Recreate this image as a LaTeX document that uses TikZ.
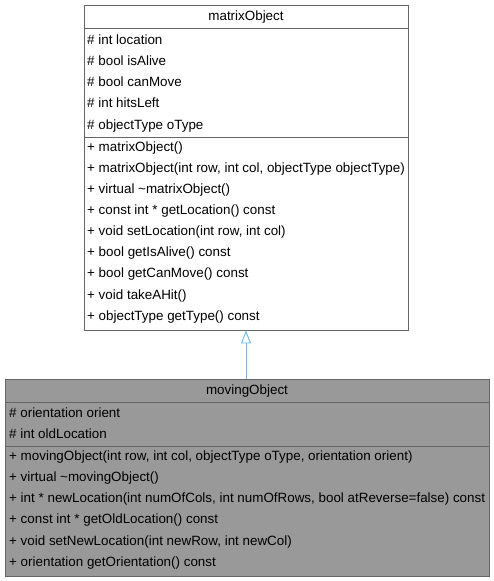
\documentclass[tikz,border=0pt]{standalone}
\usepackage{fontspec}
\setmainfont{Liberation Sans}
\usetikzlibrary{arrows.meta,positioning,calc}

\definecolor{edgeblue}{RGB}{99,184,255}

\begin{document}
\begin{tikzpicture}[x=1pt, y=-1pt, font=\fontsize{13.4}{15}\selectfont,
  classbox/.style={rectangle, draw=black!60, line width=0.9pt, inner sep=0pt},
  member/.style={anchor=west, inner sep=0pt, text height=9.5pt, text depth=2.8pt},
  sepline/.style={draw=black!60, line width=0.9pt},
  inherit/.style={draw=edgeblue, line width=0.9pt, -{Triangle[open, width=10pt, length=13pt]}}
  ]
\useasboundingbox (0,0) rectangle (494,581);

% Base class: matrixObject
\node[classbox, fill=white, minimum width=324pt, minimum height=325pt] (matrix) at (246,167.5) {};
\node[member, anchor=center] (matrixname) at (246,17.5) {matrixObject};
\draw[sepline] (84,28) -- (408,28);
\draw[sepline] (84,137) -- (408,137);

\foreach \txt [count=\i] in {{\# int location}, {\# bool isAlive}, {\# bool canMove},
    {\# int hitsLeft}, {\# objectType oType}}
  \node[member] (mattr\i) at (87,{41+21.2*(\i-1)}) {\txt};

\foreach \txt [count=\i] in {{+ matrixObject()},
    {+ matrixObject(int row, int col, objectType objectType)},
    {+ virtual \textasciitilde matrixObject()},
    {+ const int * getLocation() const},
    {+ void setLocation(int row, int col)},
    {+ bool getIsAlive() const},
    {+ bool getCanMove() const},
    {+ void takeAHit()},
    {+ objectType getType() const}}
  \node[member] (mfunc\i) at (87,{148+21.1*(\i-1)}) {\txt};

% Derived class: movingObject
\node[classbox, fill=black!40, minimum width=484pt, minimum height=197pt] (moving) at (247,477.5) {};
\node[member, anchor=center] (movingname) at (247,391.5) {movingObject};
\draw[sepline] (5,402) -- (489,402);
\draw[sepline] (5,446) -- (489,446);

\foreach \txt [count=\i] in {{\# orientation orient}, {\# int oldLocation}}
  \node[member] (vattr\i) at (9,{414+21.3*(\i-1)}) {\txt};

\foreach \txt [count=\i] in {{+ movingObject(int row, int col, objectType oType, orientation orient)},
    {+ virtual \textasciitilde movingObject()},
    {+ int * newLocation(int numOfCols, int numOfRows, bool atReverse=false) const},
    {+ const int * getOldLocation() const},
    {+ void setNewLocation(int newRow, int newCol)},
    {+ orientation getOrientation() const}}
  \node[member] (vfunc\i) at (9,{457+21.2*(\i-1)}) {\txt};

% Inheritance
\draw[inherit] (moving.north -| matrix.south) -- (matrix.south);

\end{tikzpicture}
\end{document}
